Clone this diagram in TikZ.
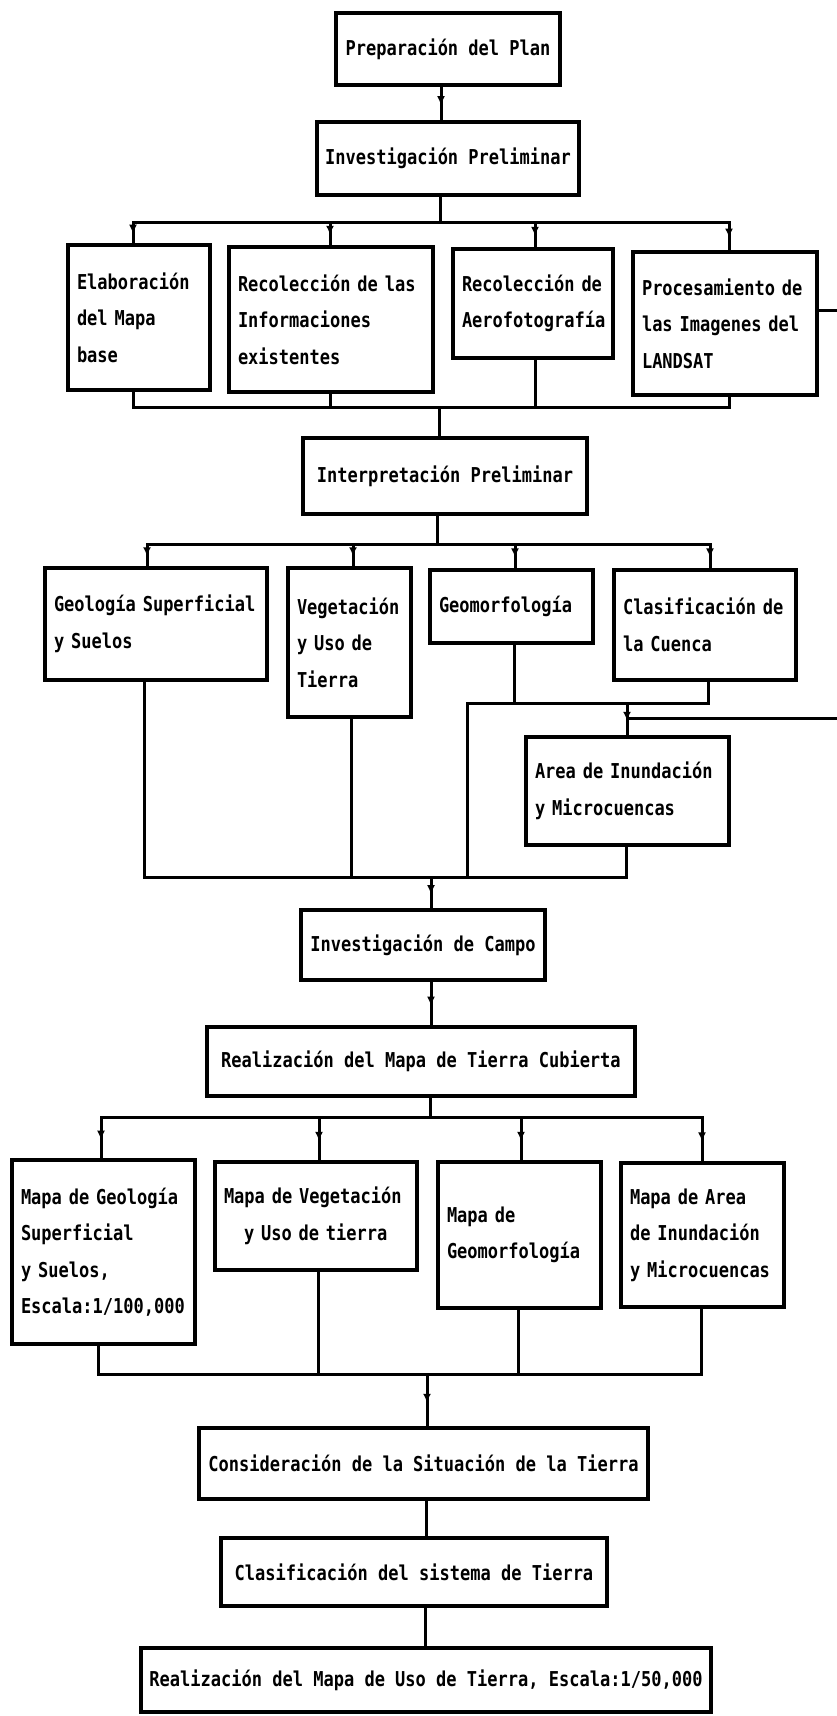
\documentclass[tikz,border=0pt]{standalone}
\usepackage{fontspec}
\newfontfamily\dmono[FakeStretch=0.83,WordSpace={1,0,0}]{DejaVu Sans Mono}
\usetikzlibrary{arrows.meta,decorations.markings}
\newcommand{\lnode}[6]{%
  \pgfmathsetmacro{\bxw}{#4-#2}\pgfmathsetmacro{\bxh}{#5-#3}%
  \pgfmathsetmacro{\bxcx}{(#2+#4)/2}\pgfmathsetmacro{\bxcy}{(#3+#5)/2}%
  \pgfmathsetmacro{\bxtw}{#4-#2-18}%
  \node[box, minimum width=\bxw pt, minimum height=\bxh pt, text width=\bxtw pt, inner xsep=9pt, align=left] (#1) at (\bxcx,\bxcy) {#6};}
\newcommand{\cnode}[6]{%
  \pgfmathsetmacro{\bxw}{#4-#2}\pgfmathsetmacro{\bxh}{#5-#3}%
  \pgfmathsetmacro{\bxcx}{(#2+#4)/2}\pgfmathsetmacro{\bxcy}{(#3+#5)/2}%
  \node[box, minimum width=\bxw pt, minimum height=\bxh pt, inner xsep=0pt, align=center] (#1) at (\bxcx,\bxcy) {#6};}
\begin{document}
\begin{tikzpicture}[x=1pt,y=-1pt,
  box/.style={draw, line width=3.4pt, inner ysep=0pt, font=\dmono\bfseries\fontsize{20.5}{36.5}\selectfont},
  line/.style={line width=3pt, line cap=rect},
  midarr/.style={postaction={decorate}, decoration={markings, mark=at position 0.55 with {\arrow{Latex[length=9pt,width=8pt]}}}}]
\fill[white] (0,0) rectangle (837,1716);
\useasboundingbox (0,0) rectangle (837,1716);

% ---- boxes
\cnode{b1}{336}{13}{560}{85}{Preparación del Plan}
\cnode{b2}{317}{122}{579}{195}{Investigación Preliminar}
\lnode{e1}{68}{245}{210}{390}{Elaboración\\del Mapa\\base}
\lnode{e2}{229}{247}{433}{392}{Recolección de las\\Informaciones\\existentes}
\lnode{e3}{453}{249}{613}{358}{Recolección de\\Aerofotografía}
\lnode{e4}{633}{252}{817}{395}{Procesamiento de\\las Imagenes del\\LANDSAT}
\cnode{b3}{303}{438}{587}{514}{Interpretación Preliminar}
\lnode{f1}{45}{568}{267}{680}{Geología Superficial\\y Suelos}
\lnode{f2}{288}{568}{411}{717}{Vegetación\\y Uso de\\Tierra}
\lnode{f3}{430}{570}{593}{643}{Geomorfología}
\lnode{f4}{614}{570}{796}{680}{Clasificación de\\la Cuenca}
\lnode{f5}{526}{737}{729}{845}{Area de Inundación\\y Microcuencas}
\cnode{b4}{301}{910}{545}{980}{Investigación de Campo}
\cnode{b5}{207}{1027}{635}{1096}{Realización del Mapa de Tierra Cubierta}
\lnode{g1}{12}{1160}{195}{1344}{Mapa de Geología\\Superficial\\y Suelos,\\Escala:1/100,000}
\lnode{g2}{215}{1162}{417}{1270}{Mapa de Vegetación\\\hspace*{20pt}y Uso de tierra}
\lnode{g3}{438}{1162}{601}{1308}{Mapa de\\Geomorfología}
\lnode{g4}{621}{1163}{784}{1307}{Mapa de Area\\de Inundación\\y Microcuencas}
\cnode{b6}{199}{1428}{648}{1499}{Consideración de la Situación de la Tierra}
\cnode{b7}{221}{1538}{607}{1606}{Clasificación del sistema de Tierra}
\cnode{b8}{141}{1648}{711}{1712}{Realización del Mapa de Uso de Tierra, Escala:1/50,000}

% ---- top spine and first branch
\coordinate (s1) at (441,0);
\draw[line,midarr] (b1.south -| s1) -- (b2.north -| s1);
\coordinate (k1) at (440,222);
\draw[line] (b2.south -| k1) -- (k1);
\coordinate (t1) at (133,222); \coordinate (t2) at (330,222);
\coordinate (t3) at (535,222); \coordinate (t4) at (729,222);
\draw[line] (t1) -- (t4);
\draw[line,midarr] (t1) -- (t1 |- e1.north);
\draw[line,midarr] (t2) -- (t2 |- e2.north);
\draw[line,midarr] (t3) -- (t3 |- e3.north);
\draw[line,midarr] (t4) -- (t4 |- e4.north);
\coordinate (u1) at (133,407); \coordinate (u2) at (330,407);
\coordinate (u3) at (535,407); \coordinate (u4) at (729,407);
\draw[line] (e1.south -| u1) -- (u1) -- (u4) -- (e4.south -| u4);
\draw[line] (e2.south -| u2) -- (u2);
\draw[line] (e3.south -| u3) -- (u3);
\coordinate (j1) at (439,407);
\draw[line] (j1) -- (b3.north -| j1);
\coordinate (q1) at (837,310);
\draw[line] (e4.east |- q1) -- (q1);

% ---- second branch
\coordinate (k2) at (437,544);
\draw[line] (b3.south -| k2) -- (k2);
\coordinate (v1) at (147,544); \coordinate (v2) at (353,544);
\coordinate (v3) at (515,544); \coordinate (v4) at (710,544);
\draw[line] (v1) -- (v4);
\draw[line,midarr] (v1) -- (v1 |- f1.north);
\draw[line,midarr] (v2) -- (v2 |- f2.north);
\draw[line,midarr] (v3) -- (v3 |- f3.north);
\draw[line,midarr] (v4) -- (v4 |- f4.north);
\coordinate (m1) at (467,703); \coordinate (m2) at (514,703);
\coordinate (m3) at (627,703); \coordinate (m4) at (708,703);
\draw[line] (f3.south -| m2) -- (m2);
\draw[line] (f4.south -| m4) -- (m4);
\draw[line] (m1) -- (m4);
\draw[line,midarr] (m3) -- (f5.north -| m3);
\coordinate (q2a) at (627,718); \coordinate (q2) at (837,718);
\draw[line] (q2a) -- (q2);
\coordinate (w1) at (144,877); \coordinate (w2) at (351,877);
\coordinate (w3) at (467,877); \coordinate (w5) at (626,877);
\draw[line] (f1.south -| w1) -- (w1) -- (w5) -- (f5.south -| w5);
\draw[line] (f2.south -| w2) -- (w2);
\draw[line] (m1) -- (w3);
\coordinate (j2) at (431,877);
\draw[line,midarr] (j2) -- (b4.north -| j2);

% ---- third branch
\coordinate (s4) at (431,0);
\draw[line,midarr] (b4.south -| s4) -- (b5.north -| s4);
\coordinate (k3) at (430,1117);
\draw[line] (b5.south -| k3) -- (k3);
\coordinate (y1) at (101,1117); \coordinate (y2) at (319,1117);
\coordinate (y3) at (521,1117); \coordinate (y4) at (702,1117);
\draw[line] (y1) -- (y4);
\draw[line,midarr] (y1) -- (y1 |- g1.north);
\draw[line,midarr] (y2) -- (y2 |- g2.north);
\draw[line,midarr] (y3) -- (y3 |- g3.north);
\draw[line,midarr] (y4) -- (y4 |- g4.north);
\coordinate (z1) at (98,1374); \coordinate (z2) at (318,1374);
\coordinate (z3) at (518,1374); \coordinate (z4) at (701,1374);
\draw[line] (g1.south -| z1) -- (z1) -- (z4) -- (g4.south -| z4);
\draw[line] (g2.south -| z2) -- (z2);
\draw[line] (g3.south -| z3) -- (z3);
\coordinate (j3) at (427,1374);
\draw[line,midarr] (j3) -- (b6.north -| j3);
\coordinate (s6) at (426,0);
\draw[line] (b6.south -| s6) -- (b7.north -| s6);
\coordinate (s7) at (425,0);
\draw[line] (b7.south -| s7) -- (b8.north -| s7);
\end{tikzpicture}
\end{document}
